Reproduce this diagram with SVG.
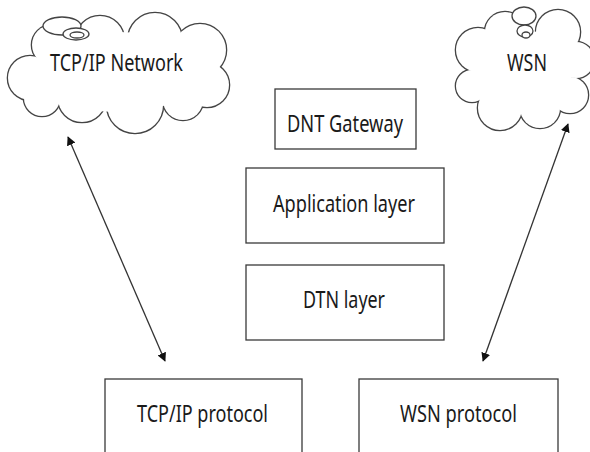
<svg xmlns="http://www.w3.org/2000/svg" width="590" height="452" viewBox="0 0 590 452">
<defs>
<style>
.box{fill:#fff;stroke:#3a3a3a;stroke-width:1.3}
.lbl{font-family:"Noto Sans","Liberation Sans",sans-serif;font-size:23.5px;fill:#1a1a1a}
.cs{fill:none;stroke:#444;stroke-width:2.6}
.cf{fill:#fff;stroke:none}
.bub{fill:#fff;stroke:#444;stroke-width:1.3}
.conn{fill:none;stroke:#333;stroke-width:1.3}
</style>
<marker id="ah" viewBox="0 0 10 10" refX="9" refY="5" markerWidth="9" markerHeight="9" markerUnits="userSpaceOnUse" orient="auto-start-reverse">
<path d="M0,0 L10,5 L0,10 z" fill="#111"/>
</marker>
</defs>
<rect width="590" height="452" fill="#fff"/>

<g id="cloud-tcpip">
<g class="cs">
<circle cx="30" cy="78" r="22"/><circle cx="52" cy="45" r="20"/><circle cx="100" cy="40" r="24"/>
<circle cx="155" cy="40" r="27"/><circle cx="200" cy="50" r="26"/><circle cx="207" cy="85" r="22"/>
<circle cx="183" cy="100" r="20"/><circle cx="135" cy="105" r="28"/><circle cx="82" cy="98" r="24"/><circle cx="42" cy="98" r="18"/>
</g>
<g class="cf">
<circle cx="30" cy="78" r="22"/><circle cx="52" cy="45" r="20"/><circle cx="100" cy="40" r="24"/>
<circle cx="155" cy="40" r="27"/><circle cx="200" cy="50" r="26"/><circle cx="207" cy="85" r="22"/>
<circle cx="183" cy="100" r="20"/><circle cx="135" cy="105" r="28"/><circle cx="82" cy="98" r="24"/><circle cx="42" cy="98" r="18"/>
<ellipse cx="118" cy="72" rx="85" ry="40"/>
</g>
<ellipse class="bub" cx="62" cy="26" rx="19" ry="9"/>
<ellipse class="bub" cx="76" cy="34" rx="13" ry="6"/>
<ellipse class="bub" cx="77" cy="35" rx="7" ry="3"/>
<text class="lbl" x="50" y="71" textLength="133" lengthAdjust="spacingAndGlyphs">TCP/IP Network</text>
</g>

<g id="cloud-wsn">
<g class="cs">
<circle cx="478" cy="50" r="22"/><circle cx="505" cy="32" r="20"/><circle cx="558" cy="32" r="22"/>
<circle cx="576" cy="60" r="18"/><circle cx="570" cy="95" r="18"/><circle cx="540" cy="108" r="20"/>
<circle cx="500" cy="108" r="22"/><circle cx="472" cy="86" r="16"/>
</g>
<g class="cf">
<circle cx="478" cy="50" r="22"/><circle cx="505" cy="32" r="20"/><circle cx="558" cy="32" r="22"/>
<circle cx="576" cy="60" r="18"/><circle cx="570" cy="95" r="18"/><circle cx="540" cy="108" r="20"/>
<circle cx="500" cy="108" r="22"/><circle cx="472" cy="86" r="16"/>
<ellipse cx="522" cy="70" rx="50" ry="40"/>
</g>
<ellipse class="bub" cx="524" cy="16" rx="12" ry="9"/>
<ellipse class="bub" cx="525" cy="31" rx="8" ry="6"/>
<ellipse class="bub" cx="526" cy="35" rx="4" ry="3"/>
<text class="lbl" x="507" y="71" textLength="40" lengthAdjust="spacingAndGlyphs">WSN</text>
</g>

<g id="dnt-gateway">
<rect class="box" x="275" y="89" width="141" height="60"/>
<text class="lbl" x="287" y="132" textLength="116" lengthAdjust="spacingAndGlyphs">DNT Gateway</text>
</g>

<g id="application-layer">
<rect class="box" x="246" y="168" width="198" height="75"/>
<text class="lbl" x="273" y="212" textLength="142" lengthAdjust="spacingAndGlyphs">Application layer</text>
</g>

<g id="dtn-layer">
<rect class="box" x="246" y="265" width="198" height="75"/>
<text class="lbl" x="303" y="308" textLength="82" lengthAdjust="spacingAndGlyphs">DTN layer</text>
</g>

<g id="tcpip-protocol">
<rect class="box" x="105" y="379" width="197" height="90"/>
<text class="lbl" x="137" y="422" textLength="131" lengthAdjust="spacingAndGlyphs">TCP/IP protocol</text>
</g>

<g id="wsn-protocol">
<rect class="box" x="359" y="379" width="199" height="90"/>
<text class="lbl" x="400" y="422" textLength="117" lengthAdjust="spacingAndGlyphs">WSN protocol</text>
</g>

<g id="connectors">
<line class="conn" x1="68" y1="137" x2="165" y2="361" marker-start="url(#ah)" marker-end="url(#ah)"/>
<line class="conn" x1="568" y1="124" x2="483" y2="361" marker-start="url(#ah)" marker-end="url(#ah)"/>
</g>
</svg>
